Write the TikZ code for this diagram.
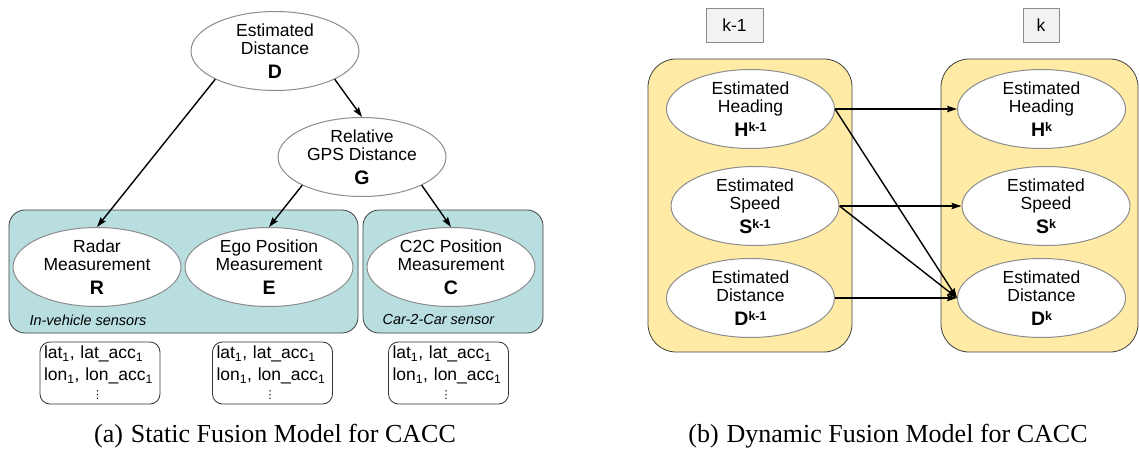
\documentclass[tikz,border=0pt]{standalone}
\usepackage{fontspec}
\setmainfont{Liberation Sans}
\newfontfamily\capfont{Liberation Serif}
\newfontfamily\symfont{DejaVu Sans}
\usetikzlibrary{shapes.geometric,arrows.meta}
\definecolor{sensorteal}{HTML}{B8DEE0}
\definecolor{sliceyellow}{HTML}{FFEBA5}
\definecolor{rimgray}{HTML}{8C8C8C}

\begin{document}
\begin{tikzpicture}[x=1pt,y=-1pt,font=\fontsize{17.5}{18}\selectfont,
  var/.style={ellipse,draw=rimgray,line width=1pt,fill=white,minimum width=168pt,minimum height=79pt,inner sep=0pt,align=center},
  grp/.style 2 args={draw=black!75,line width=0.8pt,fill=#1,rounded corners=#2},
  obs/.style={draw=black!80,line width=0.8pt,rounded corners=10pt,minimum width=120pt,minimum height=62pt,inner xsep=4pt,inner ysep=0pt,text width=112pt,align=left,font=\fontsize{17.5}{22}\selectfont},
  dep/.style={-{Stealth[length=10pt,width=6.5pt,inset=1.5pt]},line width=1.4pt},
  slicetag/.style={draw=black!45,fill=black!5,line width=0.8pt,minimum width=#1,minimum height=34pt,inner sep=0pt},
  grplabel/.style={anchor=west,font=\fontsize{14.5}{15}\selectfont\itshape},
  caption/.style={anchor=base,font=\capfont\fontsize{26}{28}\selectfont}]
\newcommand\varsym[2]{{\fontsize{19.5}{20}\selectfont\textbf{#1}}\raisebox{5pt}{\fontsize{12.5}{13}\selectfont\bfseries #2}}
\newcommand\moredots{{\symfont\fontsize{11}{11}\selectfont ⋮}}
\useasboundingbox (0,0) rectangle (1139,449);
% (a) static model
\draw[grp={sensorteal}{16pt}] (9,210) rectangle (358,333);
\draw[grp={sensorteal}{16pt}] (363,210) rectangle (543,333);
\node[var] (D) at (275,51) {Estimated\\Distance\\[6pt]\varsym{D}{}};
\node[var] (G) at (362,157) {Relative\\GPS Distance\\[6pt]\varsym{G}{}};
\node[var] (R) at (97,267) {Radar\\Measurement\\[6pt]\varsym{R}{}};
\node[var] (E) at (269,267) {Ego Position\\Measurement\\[6pt]\varsym{E}{}};
\node[var] (C) at (451,267) {C2C Position\\Measurement\\[6pt]\varsym{C}{}};
\node[grplabel] (invehicle) at (26,320) {In-vehicle sensors};
\node[grplabel] (cartocar) at (379,320) {Car-2-Car sensor};
\draw[dep] (D.south west) -- (R.north);
\draw[dep] (D.south east) -- (G.north);
\draw[dep] (G.south west) -- (E.north);
\draw[dep] (G.south east) -- (C.north);
\foreach \n/\x in {r/100,e/272.5,c/448.5}{
  \node[obs] (\n data) at (\x,373) {lat\textsubscript{1}, lat\_acc\textsubscript{1}\\lon\textsubscript{1}, lon\_acc\textsubscript{1}\\[-4pt]\hspace*{48pt}\moredots};
}
\node[caption] (capa) at (275,442) {(a)\hspace{0.3em}Static Fusion Model for CACC};
% (b) dynamic model
\node[slicetag=57pt] (kprev) at (734.5,25) {k-1};
\node[slicetag=36pt] (kcur) at (1041,25) {k};
\draw[grp={sliceyellow}{28pt}] (648,59) rectangle (852,352);
\draw[grp={sliceyellow}{28pt}] (941,59) rectangle (1138,352);
\foreach \n/\w/\l/\y/\dx in {h/Heading/H/109/0,s/Speed/S/206/4.5,d/Distance/D/298/0}{
  \node[var] (\n prev) at (750.5+\dx,\y) {Estimated\\\w\\[6pt]\varsym{\l}{k-1}};
  \node[var] (\n cur) at (1041.5+\dx,\y) {Estimated\\\w\\[6pt]\varsym{\l}{k}};
  \draw[dep] (\n prev.east) -- (\n cur.west);
}
\draw[dep] (hprev.east) -- (dcur.west);
\draw[dep] (sprev.east) -- (dcur.west);
\node[caption] (capb) at (888,442) {(b)\hspace{0.3em}Dynamic Fusion Model for CACC};
\end{tikzpicture}
\end{document}
